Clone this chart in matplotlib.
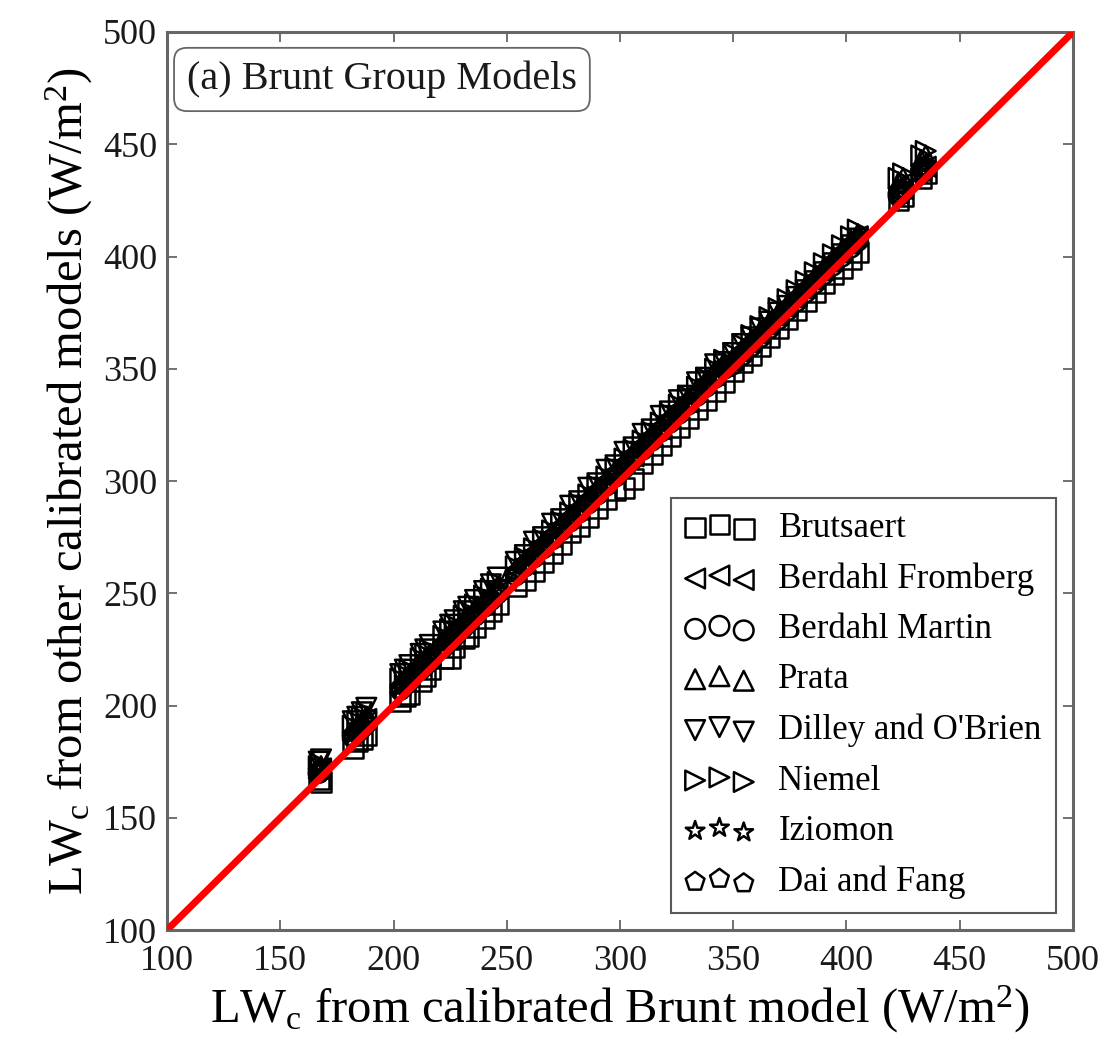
import matplotlib
matplotlib.use("Agg")
import matplotlib.pyplot as plt

plt.rcParams['font.family'] = ['Liberation Serif', 'DejaVu Serif']
plt.rcParams['mathtext.fontset'] = 'custom'
plt.rcParams['mathtext.rm'] = 'Liberation Serif'
plt.rcParams['mathtext.it'] = 'Liberation Serif:italic'

# Brunt model values (x axis)
brunt = [167, 168, 182, 184, 186, 188, 203, 205, 207, 212, 214, 216, 222, 225, 227, 231, 233, 236, 240, 243, 246,
         254, 258, 262, 266, 270, 274, 278, 282, 286, 290, 294, 298, 302, 306, 310, 314, 318, 322, 326, 330,
         334, 338, 342, 346, 350, 354, 358, 362, 366, 370, 374, 378, 382, 386, 390, 394, 398, 402, 405,
         423, 425, 433, 435]

brutsaert = [167, 166, 181, 184, 185, 187, 202, 204, 205, 211, 213, 216, 221, 221, 226, 230, 231, 235, 239, 242, 245,
             253, 256, 260, 264, 268, 272, 277, 280, 284, 288, 292, 296, 297, 301, 308, 312, 316, 320, 324, 328,
             332, 336, 340, 344, 349, 353, 356, 360, 364, 368, 372, 376, 380, 384, 388, 392, 395, 399, 402,
             425, 427, 435, 437]
berdahl_fromberg = [172, 172, 188, 190, 192, 194, 209, 211, 213, 218, 220, 222, 228, 231, 233, 237, 239, 242, 246, 249, 252,
                    260, 263, 268, 272, 275, 280, 284, 287, 292, 296, 299, 304, 308, 311, 316, 320, 323, 328, 332, 335,
                    340, 344, 347, 351, 354, 358, 362, 366, 370, 374, 378, 382, 386, 390, 394, 398, 402, 406, 409,
                    428, 430, 438, 440]
berdahl_martin = [170, 171, 186, 188, 190, 192, 207, 209, 211, 216, 218, 220, 226, 229, 231, 235, 237, 240, 244, 247, 250,
                  258, 262, 266, 270, 274, 278, 282, 286, 290, 294, 298, 302, 306, 310, 314, 318, 322, 326, 330, 334,
                  338, 342, 346, 350, 352, 356, 360, 364, 368, 372, 376, 380, 384, 388, 392, 396, 400, 404, 407,
                  427, 429, 437, 439]
prata = [172, 173, 189, 191, 193, 195, 210, 212, 214, 219, 221, 223, 229, 232, 234, 238, 240, 243, 247, 250, 253,
         261, 265, 269, 273, 277, 281, 285, 289, 293, 297, 301, 305, 309, 313, 317, 321, 325, 329, 333, 337,
         341, 345, 349, 353, 355, 359, 363, 367, 371, 375, 379, 383, 387, 391, 395, 399, 403, 407, 410,
         433, 435, 443, 445]
dilley = [175, 176, 193, 195, 197, 199, 214, 216, 218, 223, 225, 227, 233, 236, 238, 242, 244, 247, 251, 254, 257,
          264, 267, 273, 275, 281, 283, 289, 291, 297, 299, 305, 307, 313, 315, 321, 323, 329, 331, 336, 338,
          344, 346, 352, 353, 357, 361, 364, 368, 371, 375, 378, 382, 385, 389, 393, 397, 401, 405, 408,
          426, 428, 436, 438]
niemel = [173, 174, 191, 193, 195, 197, 212, 214, 216, 221, 223, 225, 231, 234, 236, 240, 242, 245, 249, 252, 255,
          262, 266, 270, 274, 278, 282, 286, 290, 294, 298, 302, 306, 310, 314, 318, 322, 326, 330, 334, 338,
          342, 346, 350, 354, 357, 361, 365, 369, 373, 377, 381, 385, 389, 393, 397, 401, 405, 409, 412,
          435, 437, 445, 447]
iziomon = [171, 172, 187, 189, 191, 193, 208, 210, 212, 217, 219, 221, 227, 230, 232, 236, 238, 241, 245, 248, 251,
           259, 263, 267, 271, 275, 279, 283, 287, 291, 295, 299, 303, 307, 311, 315, 319, 323, 327, 331, 335,
           339, 343, 347, 351, 353, 357, 361, 365, 369, 373, 377, 381, 385, 389, 393, 397, 401, 405, 408,
           429, 431, 439, 441]
dai_fang = [170, 171, 186, 188, 190, 192, 207, 209, 211, 216, 218, 220, 226, 229, 231, 235, 237, 240, 244, 247, 250,
            259, 263, 267, 271, 275, 279, 283, 287, 291, 295, 299, 303, 307, 311, 315, 319, 323, 327, 331, 335,
            339, 343, 347, 351, 353, 357, 361, 365, 369, 373, 377, 381, 385, 389, 393, 397, 401, 405, 408,
            428, 430, 438, 440]

series = [
    ("Brutsaert", brutsaert, 's'),
    ("Berdahl Fromberg", berdahl_fromberg, '<'),
    ("Berdahl Martin", berdahl_martin, 'o'),
    ("Prata", prata, '^'),
    ("Dilley and O'Brien", dilley, 'v'),
    ("Niemel", niemel, '>'),
    ("Iziomon", iziomon, '*'),
    ("Dai and Fang", dai_fang, 'p'),
]

fig = plt.figure(figsize=(11.09, 10.49), dpi=100)
ax = fig.add_axes([0.1506, 0.1134, 0.8169, 0.8561])

for name, vals, m in series:
    ax.scatter(brunt, vals, s=200, marker=m, facecolors='none', edgecolors='black',
               linewidths=1.8, label=name, zorder=2)

ax.plot([100, 500], [100, 500], color='red', lw=5, zorder=3)

ax.set_xlim(100, 500)
ax.set_ylim(100, 500)
ax.set_xticks(range(100, 501, 50))
ax.set_yticks(range(100, 501, 50))
ax.tick_params(direction='in', length=7, width=1.3, colors='0.4', labelcolor='0.1',
               labelsize=26, top=True, right=True)
ax.tick_params(axis='x', pad=11)
ax.tick_params(axis='y', pad=7)
for sp in ax.spines.values():
    sp.set_color('0.4')
    sp.set_linewidth(2.2)

ax.set_xlabel(r'LW$_\mathrm{c}$ from calibrated Brunt model (W/m$^2$)', fontsize=35, labelpad=4)
ax.set_ylabel(r'LW$_\mathrm{c}$ from other calibrated models (W/m$^2$)', fontsize=35, labelpad=6)

ax.text(0.022, 0.968, '(a) Brunt Group Models', transform=ax.transAxes, fontsize=29,
        ha='left', va='top', color='0.1',
        bbox=dict(boxstyle='round,pad=0.32', facecolor='white', edgecolor='0.4', linewidth=1.3))

leg = ax.legend(loc='lower right', scatterpoints=3, fontsize=25, fancybox=False,
                edgecolor='0.35', framealpha=1, borderaxespad=0.5, handletextpad=0.7)
leg.get_frame().set_linewidth(1.5)

fig.savefig('out.png', dpi=100)
